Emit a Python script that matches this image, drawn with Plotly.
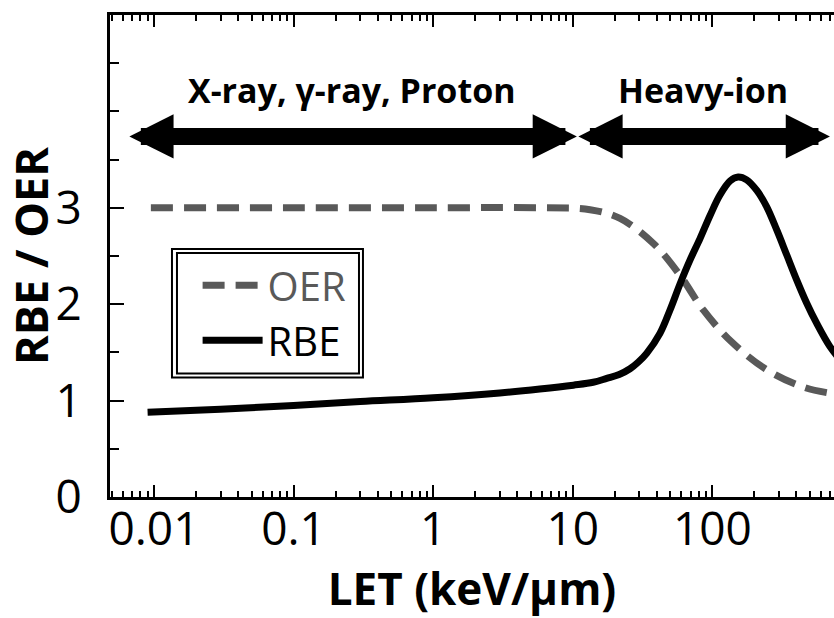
import math
import plotly.graph_objects as go

# LET (keV/um) samples and curve values
let_oer = [0.0095, 0.1, 1, 6.3, 13.3, 21.8, 37.8, 58.6, 86, 137, 245, 448, 735, 900]
oer = [3.0, 3.0, 3.0, 3.0, 2.98, 2.89, 2.63, 2.30, 1.94, 1.61, 1.32, 1.14, 1.07, 1.05]

let_rbe = [0.009, 0.03, 0.1, 0.3, 1, 3, 5.8, 10.1, 14, 17.5, 21.5, 25.7, 29.5, 33.8, 42.2, 49.7, 58.6,
           69.2, 81.5, 96.2, 113, 134, 153, 176, 208, 245, 289, 341, 402, 474, 559, 695, 850]
rbe = [0.88, 0.91, 0.95, 0.99, 1.03, 1.08, 1.12, 1.16, 1.19, 1.23, 1.27, 1.33, 1.40, 1.49, 1.70, 1.94, 2.21,
       2.46, 2.68, 2.92, 3.13, 3.28, 3.32, 3.29, 3.18, 3.01, 2.77, 2.51, 2.25, 2.01, 1.80, 1.56, 1.40]

# Radiation-type bands shown as double-headed arrows: (label, LET from, LET to)
band_labels = ["X-ray, γ-ray, Proton", "Heavy-ion"]
band_start = [0.0065, 10.7]
band_end = [10.7, 695]
band_level = 3.74
band_text_level = 4.22

x_ticks = [0.01, 0.1, 1, 10, 100]
x_tick_text = ["0.01", "0.1", "1", "10", "100"]
y_ticks = [0, 1, 2, 3]

GRAY = "#595959"
FONT = "Open Sans"

fig = go.Figure()
fig.add_trace(go.Scatter(
    x=let_oer, y=oer, mode="lines", line_shape="spline",
    name=f"<span style='color:{GRAY}'>OER</span>",
    line=dict(color=GRAY, width=7, dash="22px,11px"),
))
fig.add_trace(go.Scatter(
    x=let_rbe, y=rbe, mode="lines", line_shape="spline",
    name="RBE", line=dict(color="black", width=7),
))

for label, a, b in zip(band_labels, band_start, band_end):
    la, lb = math.log10(a), math.log10(b)
    fig.add_annotation(
        x=lb, y=band_level, ax=la, ay=band_level, xref="x", yref="y",
        axref="x", ayref="y", text="", showarrow=True,
        arrowside="end+start", arrowhead=2, startarrowhead=2,
        arrowsize=0.52, startarrowsize=0.52, arrowwidth=17, arrowcolor="black",
    )
    fig.add_annotation(
        x=(la + lb) / 2, y=band_text_level, xref="x", yref="y",
        text=f"<b>{label}</b>", showarrow=False,
        font=dict(family=FONT, size=34, color="black"),
    )

minor_x = [k * 10 ** e for e in range(-3, 3) for k in range(2, 10)]

fig.update_layout(
    width=834, height=618,
    margin=dict(l=110, r=0, t=15, b=121),
    paper_bgcolor="white", plot_bgcolor="white",
    font=dict(family=FONT, size=42, color="black"),
    showlegend=True,
    legend=dict(
        x=0.121, y=0.507, xanchor="left", yanchor="top",
        bgcolor="rgba(0,0,0,0)", borderwidth=0,
        font=dict(family=FONT, size=40), itemwidth=60,
        tracegroupgap=0,
    ),
    xaxis=dict(
        type="log", range=[-2.315, 2.871],
        tickvals=x_ticks, ticktext=x_tick_text,
        ticks="inside", ticklen=12, tickwidth=2, tickcolor="black",
        showline=True, linewidth=3, linecolor="black", mirror="ticks",
        showgrid=False, zeroline=False,
        minor=dict(tickvals=minor_x, ticks="inside", ticklen=6, tickwidth=2,
                   tickcolor="black", showgrid=False),
        title=dict(text="<b>LET (keV/μm)</b>", font=dict(size=44), standoff=10),
        tickfont=dict(size=46), ticklabelstandoff=-10,
    ),
    yaxis=dict(
        range=[0, 5], tickvals=y_ticks,
        ticks="inside", ticklen=14, tickwidth=2, tickcolor="black",
        showline=True, linewidth=3, linecolor="black",
        showgrid=False, zeroline=False,
        minor=dict(tickvals=[0.5, 1.5, 2.5, 3.5, 4, 4.5], ticks="inside",
                   ticklen=9, tickwidth=2, tickcolor="black", showgrid=False),
        title=dict(text="<b>RBE / OER</b>", font=dict(size=45), standoff=0),
        tickfont=dict(size=46), ticklabelstandoff=16,
    ),
    yaxis2=dict(
        overlaying="y", side="right", anchor="x", range=[0, 5],
        tickvals=[1, 2, 3, 4], ticks="inside", ticklen=5, tickwidth=2,
        tickcolor="black", showticklabels=False, showline=False,
        showgrid=False, zeroline=False,
    ),
)

# Double frame around the legend
for x0, x1, y0, y1 in [(0.0856, 0.3494, 0.2481, 0.5145), (0.0925, 0.3439, 0.2564, 0.5062)]:
    fig.add_shape(type="rect", xref="paper", yref="paper",
                  x0=x0, x1=x1, y0=y0, y1=y1,
                  line=dict(color="black", width=2), fillcolor="rgba(0,0,0,0)")

fig.write_html("out.html")
